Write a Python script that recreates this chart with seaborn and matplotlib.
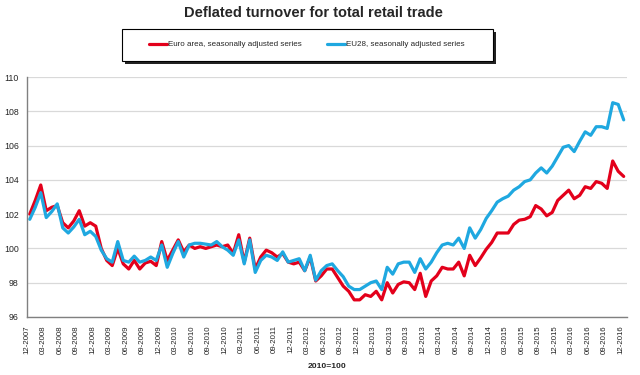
import seaborn as sns
import pandas as pd
import numpy as np
import matplotlib
matplotlib.use("Agg")
import matplotlib.pyplot as plt
from matplotlib.patches import Rectangle

# monthly index values, 12-2007 .. 12-2016 (2010=100)
euro_area = [102.0, 102.8, 103.7, 102.2, 102.4, 102.5, 101.5, 101.2, 101.6, 102.2,
             101.3, 101.5, 101.3, 100.0, 99.3, 99.0, 100.0, 99.1, 98.8, 99.3,
             98.8, 99.15, 99.25, 99.0, 100.4, 99.3, 99.9, 100.5, 99.8, 100.2,
             100.0, 100.1, 100.0, 100.1, 100.2, 100.1, 100.2, 99.7, 100.8, 99.2,
             100.6, 98.8, 99.5, 99.9, 99.75, 99.5, 99.7, 99.2, 99.1, 99.2,
             98.7, 99.5, 98.1, 98.4, 98.8, 98.8, 98.3, 97.8, 97.5, 97.0,
             97.0, 97.3, 97.2, 97.5, 97.0, 98.0, 97.4, 97.9, 98.05, 98.0,
             97.6, 98.55, 97.2, 98.1, 98.4, 98.9, 98.8, 98.8, 99.2, 98.4,
             99.6, 99.0, 99.45, 99.95, 100.35, 100.9, 100.9, 100.9, 101.4, 101.65,
             101.7, 101.85, 102.5, 102.3, 101.9, 102.1, 102.8, 103.1, 103.4, 102.9,
             103.1, 103.6, 103.5, 103.9, 103.8, 103.5, 105.1, 104.5, 104.2]

eu28 = [101.7, 102.4, 103.25, 101.8, 102.15, 102.6, 101.2, 100.9, 101.25, 101.7,
        100.8, 101.0, 100.7, 99.9, 99.4, 99.2, 100.4, 99.3, 99.2, 99.55,
        99.2, 99.3, 99.5, 99.3, 100.2, 98.9, 99.7, 100.4, 99.5, 100.2,
        100.3, 100.3, 100.25, 100.2, 100.4, 100.1, 99.9, 99.6, 100.5, 99.1,
        100.5, 98.6, 99.3, 99.6, 99.5, 99.3, 99.8, 99.2, 99.3, 99.4,
        98.7, 99.6, 98.15, 98.7, 99.0, 99.1, 98.7, 98.35, 97.8, 97.6,
        97.6, 97.8, 98.0, 98.1, 97.6, 98.9, 98.5, 99.1, 99.2, 99.2,
        98.6, 99.4, 98.8, 99.2, 99.75, 100.2, 100.3, 100.2, 100.6, 100.0,
        101.2, 100.6, 101.1, 101.75, 102.2, 102.7, 102.9, 103.05, 103.4, 103.6,
        103.9, 104.0, 104.4, 104.7, 104.4, 104.8, 105.35, 105.9, 106.0, 105.65,
        106.25, 106.8, 106.6, 107.1, 107.1, 107.0, 108.5, 108.4, 107.5]

series_names = ["Euro area, seasonally adjusted series", "EU28, seasonally adjusted series"]
colors = ["#E3001B", "#1FA8E0"]

months = pd.date_range("2007-12-01", periods=len(euro_area), freq="MS")
tick_labels = [d.strftime("%m-%Y") for d in months[::3]]

df = pd.DataFrame({
    "month": np.concatenate([np.arange(len(euro_area)), np.arange(len(eu28))]),
    "value": euro_area + eu28,
    "series": [series_names[0]] * len(euro_area) + [series_names[1]] * len(eu28),
})

sns.set_style("white")
plt.rcParams['font.family'] = ['Liberation Sans', 'DejaVu Sans']

fig = plt.figure(figsize=(6.4, 3.75), dpi=100)
ax = fig.add_axes([27 / 640, 1 - 317 / 375, 600 / 640, 240 / 375])

sns.lineplot(data=df, x="month", y="value", hue="series", palette=colors,
             linewidth=2.3, ax=ax, legend=False)

ax.set_ylim(96, 110)
ax.set_yticks(np.arange(96, 111, 2))
ax.set_xlim(-0.5, 108.6)
ax.set_xticks(np.arange(0, len(euro_area), 3) - 0.5)
ax.set_xticklabels(tick_labels, rotation=90, fontsize=5.7)
ax.tick_params(axis="y", labelsize=6.3, length=4, width=0.8, color="#808080", pad=2)
ax.tick_params(axis="x", length=4, width=0.8, color="#808080", pad=2)
ax.set_xlabel("")
ax.set_ylabel("")
ax.yaxis.grid(True, color="#d9d9d9", linewidth=0.9)
ax.set_axisbelow(True)
for side in ["top", "right"]:
    ax.spines[side].set_visible(False)
for side in ["left", "bottom"]:
    ax.spines[side].set_color("#808080")
    ax.spines[side].set_linewidth(1.0)

fig.text(313 / 640, 1 - 13 / 375, "Deflated turnover for total retail trade",
         ha="center", va="center", fontsize=10.5, fontweight="bold")
fig.text(327 / 640, 1 - 367 / 375, "2010=100", ha="center", va="center",
         fontsize=6.1, fontweight="bold")

# legend box with drop shadow
bx, by, bw, bh = 122 / 640, 1 - 61 / 375, 371 / 640, 32 / 375
fig.patches.append(Rectangle((bx + 3 / 640, by - 3 / 375), bw, bh, transform=fig.transFigure,
                             facecolor="#222222", edgecolor="none", zorder=1))
fig.patches.append(Rectangle((bx, by), bw, bh, transform=fig.transFigure,
                             facecolor="white", edgecolor="black", linewidth=0.8, zorder=2))
handles = [plt.Line2D([], [], color=c, linewidth=2.3) for c in colors]
fig.legend(handles, series_names, loc="center left", bbox_to_anchor=(149 / 640, 1 - 44.5 / 375),
           ncol=2, frameon=False, fontsize=5.8, handlelength=2.2, handletextpad=0.1,
           columnspacing=3.2, borderpad=0, borderaxespad=0)

fig.savefig("out.png", dpi=100)
